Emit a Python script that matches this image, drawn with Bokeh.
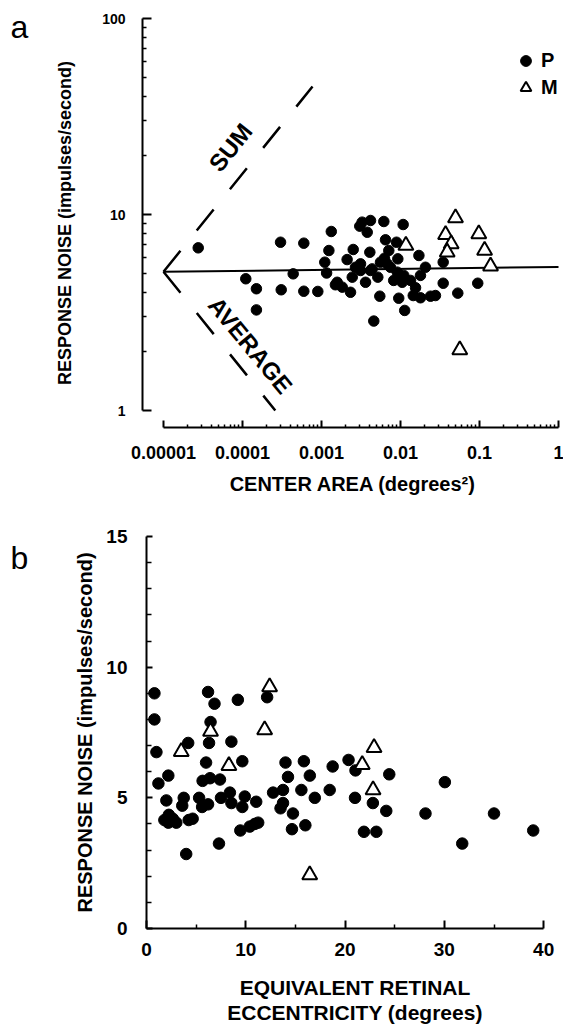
from bokeh.plotting import figure
from bokeh.models import FixedTicker, CustomJSTickFormatter, Legend, LegendItem, Label
from bokeh.layouts import column, row
from bokeh.embed import file_html
from bokeh.resources import INLINE

FONT = "Liberation Sans"

# ---------------- Panel a data ----------------
a_p_area = [2.75e-5, 3.03e-4, 5.97e-4, 1.10e-4, 1.50e-4, 1.50e-4, 3.09e-4, 4.38e-4, 5.97e-4, 8.98e-4,
            1.33e-3, 1.24e-3, 1.10e-3, 1.16e-3, 1.58e-3, 1.83e-3, 1.50e-3, 2.33e-3, 2.52e-3, 2.11e-3,
            3.05e-3, 3.27e-3, 4.17e-3, 3.79e-3, 6.15e-3, 1.08e-2, 4.09e-3, 6.46e-3, 8.9e-3, 7.11e-3,
            6.27e-3, 9.25e-3, 1.71e-2, 2.07e-2, 1.79e-2, 3.47e-2, 3.47e-2, 2.77e-2, 5.31e-2, 9.5e-2,
            5.47e-3, 9.5e-3, 1.13e-2, 4.59e-3, 1.45e-2, 1.79e-2, 1.55e-2, 1.34e-2, 1.10e-2, 1.05e-2,
            9.1e-3, 7.47e-3, 6.79e-3, 5.16e-3, 4.17e-3, 3.61e-3, 3.12e-3, 3.12e-3, 2.45e-3, 2.69e-3,
            8.2e-3, 1.0e-2, 5.58e-3, 4.38e-3, 2.40e-2]
a_p_noise = [6.76, 7.22, 7.14, 4.70, 4.18, 3.26, 4.13, 4.98, 4.06, 4.05,
             8.19, 6.55, 5.71, 5.03, 4.51, 4.26, 4.38, 4.01, 6.63, 5.89,
             8.72, 9.14, 9.32, 8.12, 9.21, 8.89, 6.42, 7.43, 7.22, 6.55,
             5.98, 5.94, 6.18, 5.38, 4.89, 5.71, 4.46, 3.86, 3.97, 4.46,
             3.83, 3.74, 3.24, 2.86, 3.86, 3.76, 4.23, 4.61, 4.89, 4.51,
             5.08, 5.38, 5.60, 4.79, 5.18, 4.51, 5.18, 5.60, 4.79, 5.38,
             4.61, 4.70, 5.71, 5.28, 3.83]
a_m_area = [1.17e-2, 4.97e-2, 3.72e-2, 4.38e-2, 3.9e-2, 9.8e-2, 0.116, 0.138, 5.63e-2]
a_m_noise = [6.95, 9.62, 7.88, 7.08, 6.42, 7.97, 6.55, 5.45, 2.04]

fit_area = [1e-5, 1.0]
fit_noise = [5.1, 5.4]
sum_area = [1e-5, 7.7e-4]
sum_noise = [5.1, 45.0]
avg_area = [1e-5, 2.6e-4]
avg_noise = [5.1, 1.0]

a_x_ticks = [1e-5, 1e-4, 1e-3, 1e-2, 1e-1, 1.0]
a_x_minor = [k * t for t in a_x_ticks[:-1] for k in range(2, 10)]
a_y_ticks = [1, 10, 100]
a_y_minor = [k * t for t in a_y_ticks[:-1] for k in range(2, 10)]

# ---------------- Panel b data ----------------
b_p_ecc = [0.8, 0.8, 1.0, 1.2, 2.2, 2.0, 1.8, 2.25, 2.65, 3.0, 2.2, 4.0, 4.2, 3.75, 3.6, 4.25,
           4.65, 5.3, 5.65, 6.0, 6.2, 6.85, 6.45, 6.3, 6.4, 5.6, 6.2, 7.4, 7.3, 7.5, 8.4, 8.55,
           8.55, 9.2, 9.65, 9.9, 9.65, 9.45, 10.4, 10.9, 11.25, 11.05, 12.15, 12.75, 13.75, 13.75,
           13.5, 14.0, 14.25, 14.75, 14.65, 15.6, 15.85, 16.0, 16.45, 16.95, 18.45, 18.75, 20.35,
           21.05, 21.0, 21.9, 23.15, 22.8, 24.15, 24.45, 28.1, 30.05, 31.8, 35.0, 38.95]
b_p_noise = [9.0, 8.0, 6.75, 5.55, 5.85, 4.9, 4.15, 4.35, 4.2, 4.05, 4.05, 2.85, 7.1, 5.0, 4.7, 4.15,
             4.2, 5.0, 5.65, 6.35, 9.05, 8.6, 7.9, 7.1, 5.75, 4.65, 4.75, 5.7, 3.25, 5.0, 5.2, 4.8,
             7.15, 8.75, 6.4, 5.05, 4.65, 3.75, 3.9, 4.0, 4.05, 4.85, 8.85, 5.2, 5.3, 4.8,
             4.6, 6.35, 5.8, 4.4, 3.8, 5.3, 6.4, 3.95, 5.85, 5.0, 5.3, 6.2, 6.45,
             6.05, 5.0, 3.7, 3.7, 4.8, 4.5, 5.9, 4.4, 5.6, 3.25, 4.4, 3.75]
b_m_ecc = [3.5, 6.45, 8.3, 11.9, 12.4, 16.44, 21.73, 22.92, 22.82]
b_m_noise = [6.77, 7.54, 6.23, 7.6, 9.24, 2.05, 6.27, 6.92, 5.30]

b_x_ticks = [0, 10, 20, 30, 40]
b_x_minor = [5, 15, 25, 35]
b_y_ticks = [0, 5, 10, 15]
b_y_minor = [1, 2, 3, 4, 6, 7, 8, 9, 11, 12, 13, 14]

panel_letters = ["a", "b"]


def style_axis(ax, tick_in, minor_in, label_size, standoff, title_size, title_standoff):
    ax.axis_line_width = 2
    ax.axis_line_color = "black"
    ax.major_tick_in = tick_in
    ax.major_tick_out = 0
    ax.minor_tick_in = minor_in
    ax.minor_tick_out = 0
    ax.major_tick_line_width = 2
    ax.minor_tick_line_width = 1.5
    ax.major_tick_line_color = "black"
    ax.minor_tick_line_color = "black"
    ax.major_label_text_font = FONT
    ax.major_label_text_font_size = label_size
    ax.major_label_text_font_style = "bold"
    ax.major_label_text_color = "black"
    ax.major_label_standoff = standoff
    ax.axis_label_text_font = FONT
    ax.axis_label_text_font_size = title_size
    ax.axis_label_text_font_style = "bold"
    ax.axis_label_text_color = "black"
    ax.axis_label_standoff = title_standoff


def letter_fig(letter, h, ypos):
    f = figure(width=40, height=h, x_range=(0, 40), y_range=(h, 0), title=None,
               x_axis_location=None, y_axis_location=None,
               output_backend="svg", toolbar_location=None, min_border=0)
    f.outline_line_color = None
    f.grid.visible = False
    f.add_layout(Label(x=10, y=ypos, text=letter, text_align="left",
                       text_baseline="alphabetic", text_font=FONT,
                       text_font_size="32px", text_color="black"))
    return f


# ================= Panel a =================
pa = figure(width=523, height=505, x_axis_type="log", y_axis_type="log",
            x_range=(5.42e-6, 1.157), y_range=(0.819, 100),
            output_backend="svg", toolbar_location=None,
            min_border_left=102, min_border_right=0, min_border_top=18, min_border_bottom=78)
pa.outline_line_color = None
pa.grid.visible = False

pa.line(fit_area, fit_noise, line_color="black", line_width=2)
pa.line(sum_area, sum_noise, line_color="black", line_width=2.5, line_dash="27 26")
pa.line(avg_area, avg_noise, line_color="black", line_width=2.5, line_dash="27 26")
rp = pa.scatter(a_p_area, a_p_noise, marker="circle", size=10.5,
                fill_color="black", line_color="black")
rm = pa.scatter(a_m_area, a_m_noise, marker="triangle", size=15,
                fill_color="white", line_color="black", line_width=2)

pa.xaxis.ticker = FixedTicker(ticks=a_x_ticks, minor_ticks=a_x_minor)
pa.xaxis.formatter = CustomJSTickFormatter(code="""
if (tick >= 1) { return tick.toFixed(0); }
const d = Math.round(-Math.log10(tick));
return tick.toFixed(d);
""")
pa.xaxis.bounds = (1e-5, 1.0)
pa.xaxis.axis_label = "CENTER AREA (degrees\u00b2)"
style_axis(pa.xaxis, 7, 3, "18px", 18, "20px", 11)

pa.yaxis.ticker = FixedTicker(ticks=a_y_ticks, minor_ticks=a_y_minor)
pa.yaxis.formatter = CustomJSTickFormatter(code="return tick.toFixed(0);")
pa.yaxis.bounds = (1, 100)
pa.yaxis.axis_label = "RESPONSE NOISE (impulses/second)"
style_axis(pa.yaxis, 9, 4, "14px", 17, "18px", 24)

pa.add_layout(Label(x=7.05e-5, y=22.0, text="SUM", angle=0.90,
                    text_align="center", text_baseline="middle",
                    text_font=FONT, text_font_size="24px", text_font_style="bold",
                    text_color="black"))
pa.add_layout(Label(x=1.26e-4, y=2.15, text="AVERAGE", angle=-0.881,
                    text_align="center", text_baseline="middle",
                    text_font=FONT, text_font_size="24px", text_font_style="bold",
                    text_color="black"))

legend = Legend(items=[LegendItem(label="P", renderers=[rp]),
                       LegendItem(label="M", renderers=[rm])],
                location=(370, 326), orientation="vertical",
                border_line_color=None, background_fill_alpha=0,
                padding=0, margin=0, spacing=0,
                glyph_width=27, glyph_height=27, label_height=27, label_standoff=2,
                label_text_font=FONT, label_text_font_size="20px",
                label_text_font_style="bold", label_text_color="black")
pa.add_layout(legend)

# ================= Panel b =================
pb = figure(width=523, height=521, x_range=(0, 42.0), y_range=(0, 15),
            output_backend="svg", toolbar_location=None,
            min_border_left=106, min_border_right=0, min_border_top=31, min_border_bottom=98)
pb.outline_line_color = None
pb.grid.visible = False

pb.scatter(b_p_ecc, b_p_noise, marker="circle", size=11.5,
           fill_color="black", line_color="black")
pb.scatter(b_m_ecc, b_m_noise, marker="triangle", size=15,
           fill_color="white", line_color="black", line_width=2)

pb.xaxis.ticker = FixedTicker(ticks=b_x_ticks, minor_ticks=b_x_minor)
pb.xaxis.bounds = (0, 40)
pb.xaxis.axis_label = "EQUIVALENT RETINAL\nECCENTRICITY (degrees)"
style_axis(pb.xaxis, 8, 4, "19px", 14, "21px", 17)
pb.xaxis.axis_label_text_line_height = 1.1

pb.yaxis.ticker = FixedTicker(ticks=b_y_ticks, minor_ticks=b_y_minor)
pb.yaxis.bounds = (0, 15)
pb.yaxis.axis_label = "RESPONSE NOISE (impulses/second)"
style_axis(pb.yaxis, 6, 5, "19px", 19, "20px", 7)

la = letter_fig(panel_letters[0], 505, 10)
lb = letter_fig(panel_letters[1], 521, 29)

layout = column(row(la, pa, spacing=0), row(lb, pb, spacing=0), spacing=0)
open("out.html", "w").write(file_html(layout, INLINE))
